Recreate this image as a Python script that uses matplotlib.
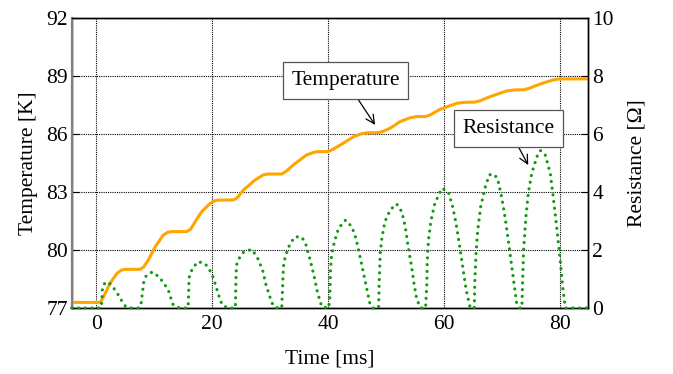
import matplotlib
matplotlib.use("Agg")
import matplotlib.pyplot as plt

# ---- data ----
temp_t = [-4.2, 0.7, 1.3, 2.4, 3.6, 4.3, 4.9, 7.6, 8.2, 9.0, 10.2, 11.6, 12.4, 13.0,
          15.6, 16.3, 17.1, 18.2, 19.7, 20.4, 21.0, 23.7, 24.4, 25.4, 27.4, 28.8, 29.6,
          32.0, 32.8, 34.0, 36.3, 37.6, 38.5, 40.0, 40.8, 42.1, 44.4, 45.8, 46.8,
          48.7, 49.6, 50.7, 52.4, 54.1, 55.2, 56.8, 57.8, 59.3, 62.2, 63.6, 65.3,
          66.2, 67.9, 70.8, 72.2, 73.8, 74.8, 76.6, 78.6, 79.6, 80.6, 84.8]
temp_v = [77.29, 77.29, 77.58, 78.28, 78.79, 78.95, 79.0, 79.0, 79.12, 79.48, 80.17, 80.78,
          80.92, 80.95, 80.95, 81.08, 81.47, 81.98, 82.42, 82.54, 82.58, 82.59, 82.72,
          83.1, 83.62, 83.88, 83.93, 83.93, 84.08, 84.4, 84.92, 85.06, 85.09, 85.09,
          85.2, 85.43, 85.86, 86.02, 86.06, 86.07, 86.15, 86.3, 86.64, 86.84, 86.9,
          86.9, 87.02, 87.28, 87.59, 87.64, 87.65, 87.72, 87.93, 88.23, 88.28, 88.29,
          88.38, 88.59, 88.78, 88.84, 88.85, 88.85]

res_t = [-4.2, 0.8,
         1.0, 1.05, 1.1, 1.55, 2.0, 2.7, 3.6, 4.25, 5.1, 5.9, 7.4,
         7.76, 7.9, 8.05, 8.16, 8.62, 9.2, 9.77, 10.9, 11.8, 12.5, 12.9, 13.3, 14.4, 15.8,
         15.9, 15.95, 16.0, 16.1, 16.7, 17.6, 18.8, 19.6, 20.2, 20.6, 21.3, 21.8, 22.9, 24.0,
         24.05, 24.1, 24.2, 24.8, 25.5, 26.8, 27.7, 28.7, 29.3, 30.0, 30.5, 31.3, 32.0,
         32.1, 32.2, 32.3, 32.6, 33.4, 34.3, 35.5, 36.2, 36.9, 37.6, 38.2, 38.9, 40.1,
         40.3, 40.4, 40.6, 41.1, 41.8, 43.0, 44.1, 44.8, 45.5, 46.1, 46.7, 47.2, 47.7, 48.7,
         48.8, 49.0, 49.3, 49.8, 50.7, 51.8, 52.7, 53.3, 53.8, 54.4, 54.8, 55.3, 56.0, 56.8,
         57.0, 57.1, 57.3, 57.7, 58.4, 59.6, 60.7, 61.4, 62.0, 62.6, 63.2, 63.8, 64.5, 65.2,
         65.3, 65.5, 65.8, 66.3, 67.1, 67.8, 68.5, 69.2, 69.9, 70.4, 70.9, 71.5, 72.1, 72.5, 73.1, 73.4,
         73.5, 73.7, 74.1, 74.5, 75.1, 76.0, 76.6, 77.4, 78.3, 78.8, 79.4, 80.0, 80.5, 80.9, 84.8]
res_v = [0, 0,
         0.22, 0.47, 0.71, 0.87, 0.90, 0.78, 0.53, 0.30, 0.05, 0, 0,
         0.16, 0.39, 0.62, 0.85, 1.10, 1.20, 1.24, 1.06, 0.82, 0.59, 0.33, 0.10, 0, 0,
         0.16, 0.43, 0.87, 1.13, 1.39, 1.60, 1.53, 1.30, 1.05, 0.79, 0.33, 0.08, 0, 0,
         0.28, 0.97, 1.48, 1.77, 1.94, 2.02, 1.79, 1.31, 0.79, 0.36, 0.09, 0, 0,
         0.50, 0.97, 1.43, 1.77, 2.20, 2.46, 2.44, 2.17, 1.66, 1.08, 0.51, 0.05, 0,
         0.39, 1.31, 1.83, 2.29, 2.75, 3.03, 2.80, 2.40, 1.77, 1.20, 0.62, 0.16, 0, 0,
         0.85, 1.94, 2.46, 2.98, 3.38, 3.59, 3.32, 2.80, 2.11, 1.42, 0.85, 0.28, 0, 0,
         0.74, 1.66, 2.34, 2.98, 3.61, 4.13, 4.01, 3.55, 2.98, 2.23, 1.42, 0.62, 0, 0,
         0.97, 1.89, 2.69, 3.49, 4.18, 4.59, 4.62, 4.47, 3.84, 3.26, 2.57, 1.66, 0.74, 0.16, 0, 0,
         0.74, 2.00, 3.15, 3.95, 4.64, 5.22, 5.43, 5.30, 4.64, 3.84, 2.80, 1.66, 0.62, 0, 0]

x_ticks = [0, 20, 40, 60, 80]
temp_ticks = [77, 80, 83, 86, 89, 92]
res_ticks = [0, 2, 4, 6, 8, 10]

FS = 15.5
plt.rcParams['font.family'] = ['Liberation Serif', 'DejaVu Serif']
plt.rcParams['font.size'] = FS

fig = plt.figure(figsize=(6.73, 3.74), dpi=100)
ax = fig.add_axes([72/673, 1-308/374, (588-72)/673, (308-18)/374])
ax2 = ax.twinx()

ax.set_xlim(-4.15, 84.8)
ax.set_ylim(77, 92)
ax2.set_ylim(0, 10)
ax.set_xticks(x_ticks)
ax.set_yticks(temp_ticks)
ax2.set_yticks(res_ticks)

ax.grid(True, color='black', linestyle=(0, (1, 1)), linewidth=0.8)
ax.set_axisbelow(True)

ax.plot(temp_t, temp_v, color='#FFA500', linewidth=2.2, solid_capstyle='butt', zorder=3)
ax2.plot(res_t, res_v, color='#119911', linewidth=2.3, linestyle=(0, (0.01, 2.1)),
         dash_capstyle='round', clip_on=False, zorder=3)

for a in (ax, ax2):
    for s in a.spines.values():
        s.set_linewidth(1.0)
        s.set_color('black')
ax2.spines['left'].set_color('#808080')
ax2.spines['left'].set_linewidth(1.6)

ax.tick_params(axis='both', direction='in', length=5, width=0.8, labelsize=FS)
ax.tick_params(axis='x', pad=5, length=0)
ax.tick_params(axis='y', pad=3)
ax2.tick_params(axis='y', direction='in', length=5, width=0.8, labelsize=FS, pad=3)

ax.set_xlabel('Time [ms]', fontsize=FS, labelpad=11)
ax.set_ylabel('Temperature [K]', fontsize=FS, labelpad=6)
ax2.set_ylabel('Resistance [\u03a9]', fontsize=FS, labelpad=10)

box = dict(boxstyle='square,pad=0.4', facecolor='white', edgecolor='#555555', linewidth=0.9)
arrow = dict(arrowstyle='->', color='black', linewidth=0.9, shrinkA=0, shrinkB=0)
ax.annotate('Temperature', xy=(48.1, 86.47), xytext=(43.0, 88.77), ha='center', va='center',
            fontsize=FS, bbox=box, arrowprops=arrow, zorder=5)
ax2.annotate('Resistance', xy=(74.5, 4.93), xytext=(71.1, 6.19), ha='center', va='center',
             fontsize=FS, bbox=box, arrowprops=arrow, zorder=5)

fig.savefig('out.png', dpi=100)
